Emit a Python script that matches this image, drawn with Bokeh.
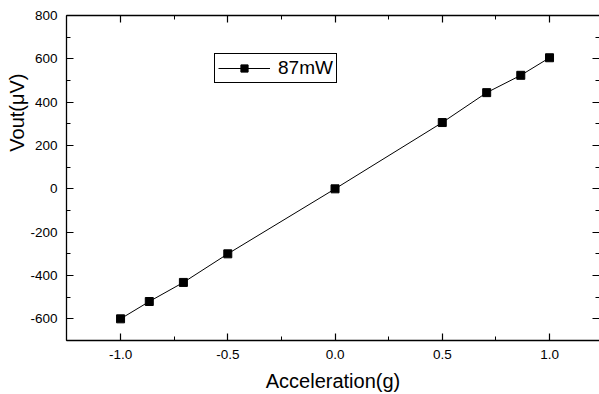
from bokeh.plotting import figure
from bokeh.models import (LinearAxis, FixedTicker, NumeralTickFormatter, Title,
                          Range1d, Legend, LegendItem, CustomJSTickFormatter)
from bokeh.embed import file_html
from bokeh.resources import INLINE

# data
accel = [-1.0, -0.866, -0.707, -0.5, 0.0, 0.5, 0.707, 0.866, 1.0]
vout = [-600, -520, -432, -300, 0, 306, 444, 524, 605]
series_name = "87mW"
x_major = [-1.0, -0.5, 0.0, 0.5, 1.0]
x_minor = [-1.25, -0.75, -0.25, 0.25, 0.75, 1.25]
y_major = [-600, -400, -200, 0, 200, 400, 600, 800]
y_minor = [-700, -500, -300, -100, 100, 300, 500, 700]

FONT = "Liberation Sans"

p = figure(width=599, height=394, output_backend="svg", toolbar_location=None,
           x_range=Range1d(-1.252, 1.233), y_range=Range1d(-700, 800),
           min_border_left=66, min_border_top=15, min_border_right=0,
           min_border_bottom=53, x_axis_location=None, y_axis_location=None)
p.grid.visible = False
p.outline_line_color = None
p.background_fill_color = "white"
p.border_fill_color = "white"

def style(ax, labels=True):
    ax.axis_line_color = "black"
    ax.axis_line_width = 1.3
    ax.major_tick_line_color = "black"
    ax.minor_tick_line_color = "black"
    ax.major_tick_in = 7
    ax.major_tick_out = 0
    ax.minor_tick_in = 4
    ax.minor_tick_out = 0
    ax.major_tick_line_width = 1.2
    ax.minor_tick_line_width = 1.0
    if labels:
        ax.major_label_text_font = FONT
        ax.major_label_text_font_size = "13.5px"
        ax.major_label_text_color = "black"
        ax.major_label_standoff = 9
    else:
        ax.formatter = CustomJSTickFormatter(code="return ''")
        ax.major_label_standoff = 0

xt = FixedTicker(ticks=x_major, minor_ticks=x_minor)
yt = FixedTicker(ticks=y_major, minor_ticks=y_minor)

xb = LinearAxis(ticker=xt, formatter=NumeralTickFormatter(format="0.0"))
style(xb)
xb.axis_label = "Acceleration(g)"
xb.axis_label_text_font = FONT
xb.axis_label_text_font_size = "20px"
xb.axis_label_text_font_style = "normal"
xb.axis_label_text_color = "black"
xb.axis_label_standoff = 8
p.add_layout(xb, "below")

yl = LinearAxis(ticker=yt, formatter=NumeralTickFormatter(format="0"))
style(yl)
p.add_layout(yl, "left")

ytitle = Title(text="Vout(μV)", align="right", offset=58, standoff=0,
               text_font=FONT, text_font_size="20px", text_font_style="normal",
               text_color="black")
p.add_layout(ytitle, "left")

xa = LinearAxis(ticker=xt)
style(xa, labels=False)
p.add_layout(xa, "above")

yr = LinearAxis(ticker=yt)
style(yr, labels=False)
yr.axis_line_color = None
p.add_layout(yr, "right")

line = p.line(accel, vout, line_color="black", line_width=1)
pts = p.scatter(accel, vout, marker="square", size=8, fill_color="black",
                line_color="black")

legend = Legend(items=[LegendItem(label=series_name, renderers=[line, pts])],
                location=(148, 257))
legend.label_text_font = FONT
legend.label_text_font_size = "19px"
legend.label_text_color = "black"
legend.border_line_color = "black"
legend.border_line_width = 1
legend.border_line_alpha = 1
legend.padding = 3
legend.margin = 0
legend.glyph_width = 52
legend.glyph_height = 18
legend.label_height = 18
legend.label_standoff = 8
legend.background_fill_alpha = 1
p.add_layout(legend, "center")

open("out.html", "w").write(file_html(p, INLINE))
